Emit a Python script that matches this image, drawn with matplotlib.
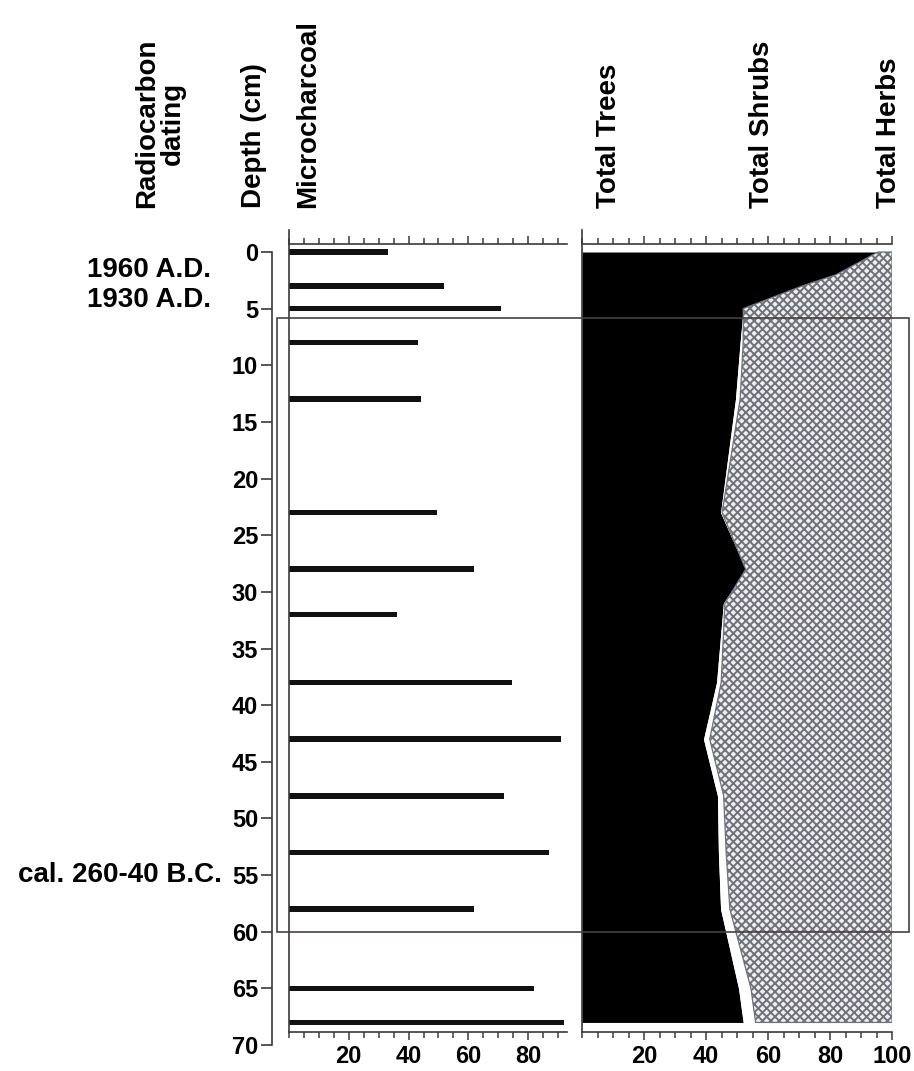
import matplotlib
matplotlib.use("Agg")
import matplotlib.pyplot as plt
import matplotlib.transforms as mtransforms
from matplotlib.patches import Rectangle
from matplotlib.ticker import MultipleLocator, FixedLocator

plt.rcParams['font.family'] = ['Liberation Sans', 'DejaVu Sans']
plt.rcParams['font.weight'] = 'bold'
plt.rcParams['hatch.linewidth'] = 1.4

# microcharcoal bars (depth in cm, value)
charcoal_depth = [0, 3, 5, 8, 13, 23, 28, 32, 38, 43, 48, 53, 58, 65, 68]
charcoal_value = [33, 52, 71, 43, 44, 49.5, 62, 36, 74.5, 91, 72, 87, 62, 82, 92]

# pollen sums (%)
pollen_depth = [0, 2, 3, 5, 8, 13, 23, 28, 31, 38, 43, 48, 53, 58, 65, 68]
total_trees = [95.5, 82, 71, 52, 51, 49.5, 44.7, 52.8, 45.6, 43.4, 39.2, 43.7, 44, 44.7, 50.5, 52]
total_shrubs = [0, 0, 0, 0, 1, 1.5, 0.5, 0, 0.5, 1.5, 2, 2, 2.5, 3, 4, 4]

# radiocarbon dates
date_labels = ['1960 A.D.', '1930 A.D.', 'cal. 260-40 B.C.']
date_depth = [1.6, 4.2, 55]

zone_top, zone_bottom = 5.8, 60

W, H = 914, 1071
fig = plt.figure(figsize=(W / 100, H / 100), dpi=100)

def ypx(d):
    return 252 + d * 11.33

def px_axes(x0, x1, y0, y1):
    return fig.add_axes([x0 / W, 1 - y1 / H, (x1 - x0) / W, (y1 - y0) / H])

line_col = '#3a3a3a'

# depth axis
ax_d = px_axes(272, 273, ypx(0), ypx(70))
ax_d.set_ylim(70, 0)
ax_d.set_xticks([])
for s in ['top', 'right', 'bottom']:
    ax_d.spines[s].set_visible(False)
ax_d.spines['left'].set_color(line_col)
ax_d.spines['left'].set_linewidth(1.2)
ax_d.yaxis.set_major_locator(MultipleLocator(5))
ax_d.tick_params(axis='y', length=8, width=1.2, color=line_col, labelsize=17, pad=2)
ax_d.patch.set_alpha(0)

top_d, bot_d = -1.95, 68.8

def panel(x0, x1, xmax, labels):
    ax = px_axes(x0, x1, ypx(top_d), ypx(bot_d))
    ax.set_ylim(bot_d, top_d)
    ax.set_xlim(0, xmax)
    ax.set_yticks([])
    ax.spines['right'].set_visible(False)
    ax.spines['top'].set_position(('data', -0.7))
    for s in ['top', 'bottom', 'left']:
        ax.spines[s].set_color(line_col)
        ax.spines[s].set_linewidth(1.2)
    ax.xaxis.set_major_locator(FixedLocator(labels))
    ax.xaxis.set_minor_locator(MultipleLocator(5))
    ax.tick_params(axis='x', which='both', top=True, labeltop=False,
                   color=line_col, width=1.1)
    ax.tick_params(axis='x', which='major', length=6, labelsize=17, pad=4)
    ax.tick_params(axis='x', which='minor', length=4)
    ax.patch.set_alpha(0)
    return ax

ax_c = panel(289, 567, 93, [20, 40, 60, 80])
ax_c.barh(charcoal_depth, charcoal_value, height=0.5, color='#111111')

ax_p = panel(582, 892, 100, [20, 40, 60, 80, 100])
tree_shrub = [t + s for t, s in zip(total_trees, total_shrubs)]
ax_p.fill_betweenx(pollen_depth, 0, total_trees, color='black', linewidth=0)
ax_p.fill_betweenx(pollen_depth, total_trees, tree_shrub, color='white', linewidth=0)
ax_p.fill_betweenx(pollen_depth, tree_shrub, 100, facecolor='#f6ece8',
                   hatch='xxxx', edgecolor='#6a7480', linewidth=0.9)

# pollen zone frame, drawn over the panels
tr = mtransforms.blended_transform_factory(fig.transFigure, ax_d.transData)
fig.add_artist(Rectangle((277 / W, zone_top), (909 - 277) / W, zone_bottom - zone_top,
                         transform=tr, fill=False, edgecolor='#4a4040',
                         linewidth=1.2, zorder=5))

# radiocarbon dates
for lab, d in zip(date_labels, date_depth):
    xr = 222 if 'B.C.' in lab else 211
    ax_d.text(xr / W, d, lab, transform=tr, ha='right', va='center', fontsize=20)

# headers
headers = [('Radiocarbon\ndating', 160), ('Depth (cm)', 254), ('Microcharcoal', 308),
           ('Total Trees', 609), ('Total Shrubs', 762), ('Total Herbs', 889)]
for txt, xc in headers:
    fig.text(xc / W, 1 - 208 / H, txt, rotation=90, ha='center', va='bottom',
             fontsize=20, multialignment='center', linespacing=1.0)

fig.savefig('out.png', dpi=100)
